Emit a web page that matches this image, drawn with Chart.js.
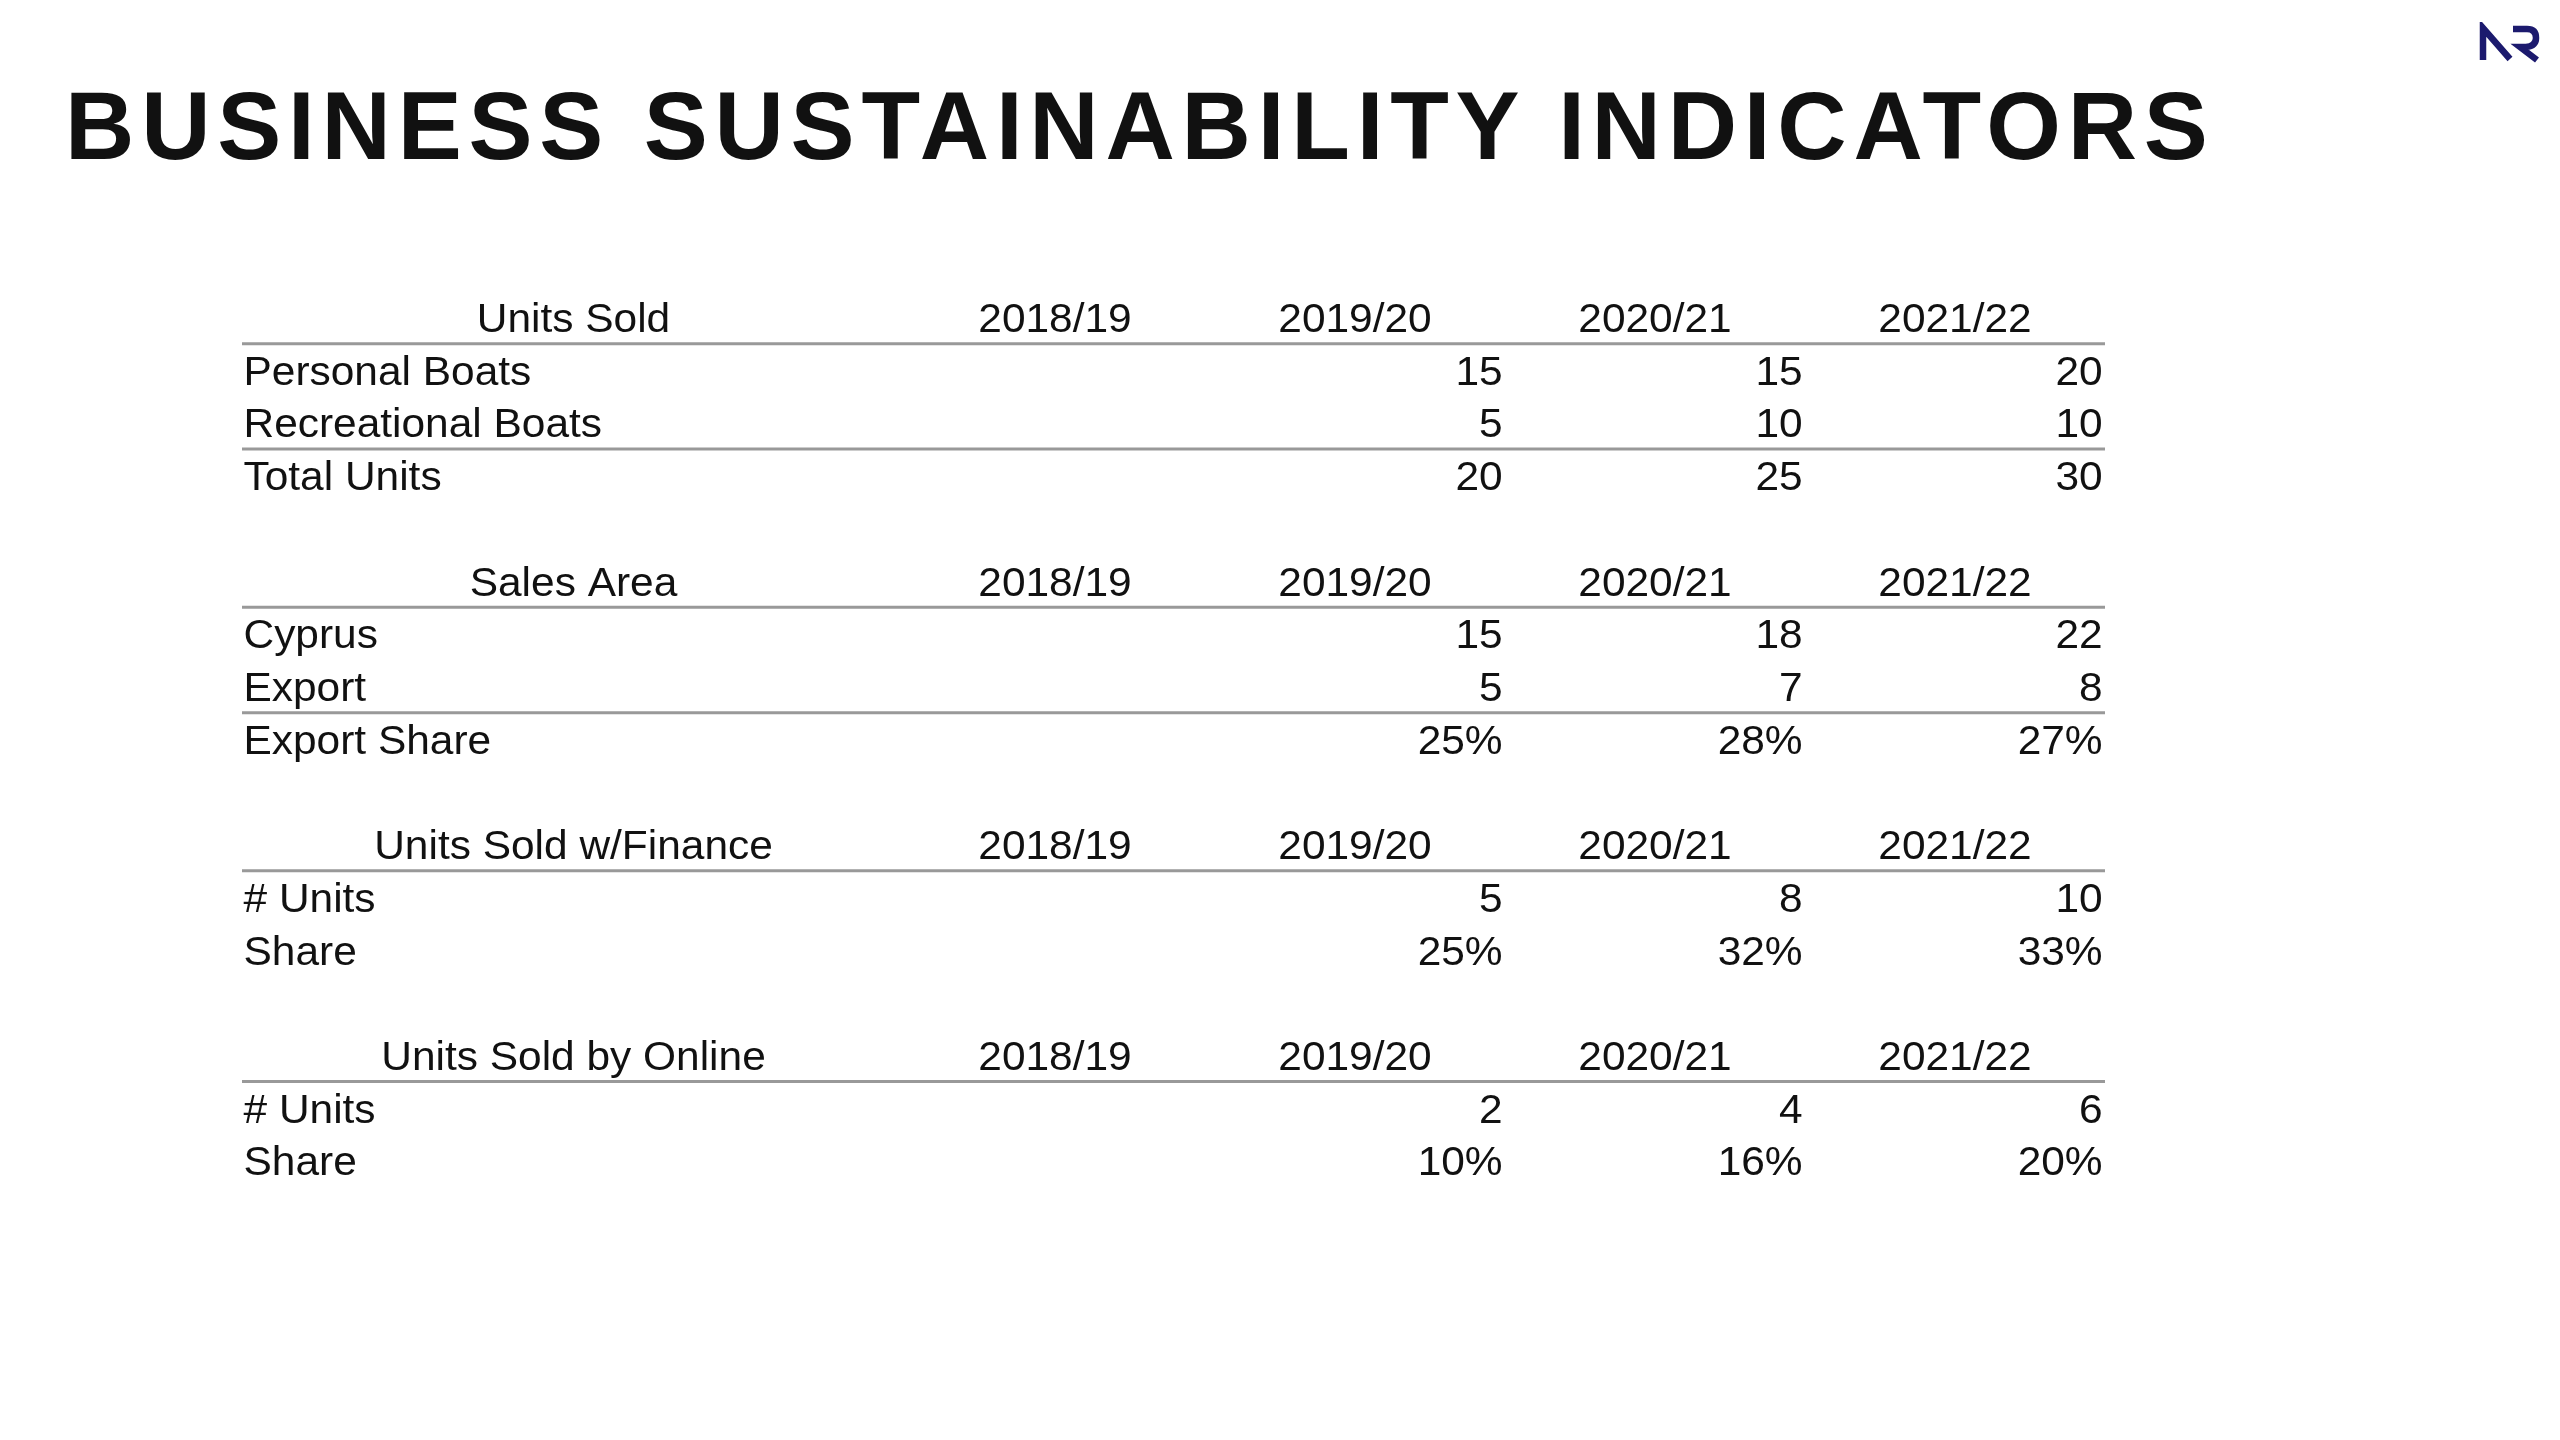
<!DOCTYPE html>
<html>
<head>
<meta charset="utf-8">
<title>Business Sustainability Indicators</title>
<script src="https://cdn.jsdelivr.net/npm/chart.js@4.4.1/dist/chart.umd.min.js"></script>
<style>
  html, body { margin: 0; padding: 0; background: #fff; }
  body { width: 2560px; height: 1440px; position: relative; overflow: hidden; font-family: "Liberation Sans", Arial, sans-serif; }
  #wrap { position: absolute; left: 0; top: 0; width: 2560px; height: 1440px; }
  h1 { position: absolute; left: 65px; top: 78px; margin: 0; font-size: 96px; line-height: 96px; font-weight: 700; letter-spacing: 6.8px; color: #111; white-space: nowrap; }
  #logo { position: absolute; left: 2476px; top: 22px; }
</style>
</head>
<body>
<div id="wrap"><canvas id="chart"></canvas></div>
<h1>BUSINESS SUSTAINABILITY INDICATORS</h1>
<svg id="logo" width="66" height="42" viewBox="0 0 66 42">
  <path d="M7,38 L7,6 L34,37" fill="none" stroke="#1c1a6e" stroke-width="6.5" stroke-linejoin="miter"/>
  <path d="M37,7 L51,7 Q60,7 60,16 Q60,24 50,25 L44,25 L61,38" fill="none" stroke="#1c1a6e" stroke-width="6.5"/>
</svg>
<script>
// column headers
const years = ['2018/19', '2019/20', '2020/21', '2021/22'];

// section headers and row labels
const sectionTitles = ['Units Sold', 'Sales Area', 'Units Sold w/Finance', 'Units Sold by Online'];
const unitsRows = ['Personal Boats', 'Recreational Boats', 'Total Units'];
const salesRows = ['Cyprus', 'Export', 'Export Share'];
const financeRows = ['# Units', 'Share'];
const onlineRows = ['# Units', 'Share'];

// values per year (2018/19 is empty in the source)
const personalBoats = [null, 15, 15, 20];
const recreationalBoats = [null, 5, 10, 10];
const totalUnits = [null, 20, 25, 30];
const cyprus = [null, 15, 18, 22];
const exportUnits = [null, 5, 7, 8];
const exportShare = [null, 25, 28, 27];   // %
const financeUnits = [null, 5, 8, 10];
const financeShare = [null, 25, 32, 33];  // %
const onlineUnits = [null, 2, 4, 6];
const onlineShare = [null, 10, 16, 20];   // %

const sections = [
  { title: sectionTitles[0], labels: unitsRows, values: [personalBoats, recreationalBoats, totalUnits], pct: [false, false, false], ruleAbove: 2 },
  { title: sectionTitles[1], labels: salesRows, values: [cyprus, exportUnits, exportShare], pct: [false, false, true], ruleAbove: 2 },
  { title: sectionTitles[2], labels: financeRows, values: [financeUnits, financeShare], pct: [false, true], ruleAbove: -1 },
  { title: sectionTitles[3], labels: onlineRows, values: [onlineUnits, onlineShare], pct: [false, true], ruleAbove: -1 }
];

const LABEL_W = 2.21;              // label column, in year-column units
const XMAX = LABEL_W + years.length;
const FONT_SIZE = 41;
const STRETCH = 1.035;             // source text is a little wide
const RULE_COLOR = '#999999';

// build cells and rules on a row grid
let cells = [];
let rules = [];
let row = 0;
sections.forEach(sec => {
  let y = row + 0.5;
  cells.push({ x: LABEL_W / 2, y: y, text: sec.title, align: 'center' });
  years.forEach((yr, j) => cells.push({ x: LABEL_W + j + 0.5, y: y, text: yr, align: 'center' }));
  rules.push(row + 1);
  sec.labels.forEach((lab, k) => {
    let r = row + 1 + k;
    cells.push({ x: 0.005, y: r + 0.5, text: lab, align: 'left' });
    sec.values[k].forEach((v, j) => {
      if (v === null) return;
      cells.push({ x: LABEL_W + j + 1 - 0.008, y: r + 0.5, text: sec.pct[k] ? v + '%' : String(v), align: 'right' });
    });
    if (k === sec.ruleAbove) rules.push(r);
  });
  row += sec.labels.length + 2;
});
const ROWS = row - 1;

const ruleSets = rules.map(b => ({
  type: 'line',
  data: [{ x: 0, y: b }, { x: XMAX, y: b }],
  borderColor: RULE_COLOR,
  borderWidth: 3,
  pointRadius: 0,
  showLine: true
}));

// draw the cell texts at the points placed by the scales
const cellText = {
  id: 'cellText',
  afterDatasetsDraw(chart) {
    const ctx = chart.ctx;
    const meta = chart.getDatasetMeta(0);
    const raw = chart.data.datasets[0].data;
    ctx.save();
    ctx.font = FONT_SIZE + 'px "Liberation Sans", Arial, sans-serif';
    ctx.fillStyle = '#111';
    ctx.textBaseline = 'alphabetic';
    meta.data.forEach((pt, i) => {
      ctx.save();
      ctx.translate(pt.x, pt.y + FONT_SIZE * 0.358);
      ctx.scale(STRETCH, 1);
      ctx.textAlign = raw[i].align;
      ctx.fillText(raw[i].text, 0, 0);
      ctx.restore();
    });
    ctx.restore();
  }
};

const ctx = document.getElementById('chart').getContext('2d');
new Chart(ctx, {
  type: 'scatter',
  data: {
    datasets: [{ label: 'cells', data: cells, pointRadius: 0, pointHoverRadius: 0 }, ...ruleSets]
  },
  options: {
    responsive: true,
    maintainAspectRatio: false,
    animation: false,
    events: [],
    layout: { padding: { left: 242, right: 455, top: 291, bottom: 253 } },
    scales: {
      x: { type: 'linear', min: 0, max: XMAX, display: false },
      y: { type: 'linear', min: 0, max: ROWS, reverse: true, display: false }
    },
    plugins: { legend: { display: false }, tooltip: { enabled: false } }
  },
  plugins: [cellText]
});
</script>
</body>
</html>
